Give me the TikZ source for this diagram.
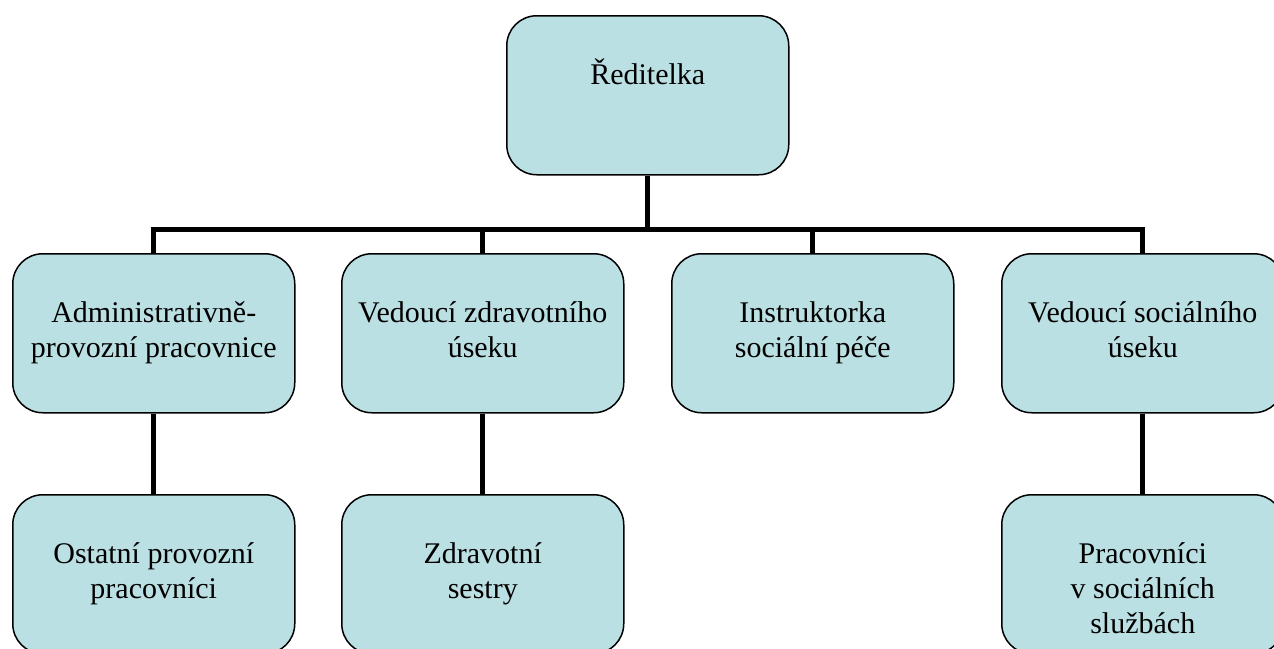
\documentclass[tikz,border=0pt]{standalone}
\usepackage{fontspec}
\setmainfont{Liberation Serif}
\definecolor{boxfill}{HTML}{BBE0E3}
\begin{document}
\begin{tikzpicture}[x=0.5pt,y=-0.5pt,
  orgbox/.style={draw=black, line width=0.75pt, fill=boxfill, rounded corners=15pt,
    minimum width=141pt, minimum height=79.5pt, inner sep=0pt, anchor=north west},
  orgtext/.style={anchor=base, align=center, font=\fontsize{15pt}{17.5pt}\selectfont, inner sep=0pt},
  conn/.style={line width=2.5pt, line join=miter}]
\useasboundingbox (0,0) rectangle (1274,648);
\clip (0,0) rectangle (1274,648);
\fill[white] (0,0) rectangle (1274,648);
% boxes
\node[orgbox] (dir) at (506,15) {};
\node[orgbox] (a1) at (12,253) {};
\node[orgbox] (a2) at (341,253) {};
\node[orgbox] (a3) at (671,253) {};
\node[orgbox] (a4) at (1001,253) {};
\node[orgbox] (b1) at (12,494) {};
\node[orgbox] (b2) at (341,494) {};
\node[orgbox] (b4) at (1001,494) {};
% connectors
\coordinate (bus) at (0,229);
\draw[conn] (dir.south) -- (dir.south |- bus);
\draw[conn] (a1.north) -- (a1.north |- bus) -- (a4.north |- bus) -- (a4.north);
\draw[conn] (a2.north) -- (a2.north |- bus);
\draw[conn] (a3.north) -- (a3.north |- bus);
\draw[conn] (a1.south) -- (b1.north);
\draw[conn] (a2.south) -- (b2.north);
\draw[conn] (a4.south) -- (b4.north);
% texts (base anchor = baseline of the last line)
\node[orgtext] (t0) at ([yshift=-34.5pt]dir.north) {Ředitelka};
\node[orgtext] (t1) at ([yshift=-52pt]a1.north) {Administrativně-\\provozní pracovnice};
\node[orgtext] (t2) at ([yshift=-52pt]a2.north) {Vedoucí zdravotního\\úseku};
\node[orgtext] (t3) at ([yshift=-52pt]a3.north) {Instruktorka\\sociální péče};
\node[orgtext] (t4) at ([yshift=-52pt]a4.north) {Vedoucí sociálního\\úseku};
\node[orgtext] (t5) at ([yshift=-52pt]b1.north) {Ostatní provozní\\pracovníci};
\node[orgtext] (t6) at ([yshift=-52pt]b2.north) {Zdravotní\\sestry};
\node[orgtext] (t7) at ([yshift=-69.5pt]b4.north) {Pracovníci\\v sociálních\\službách};
\end{tikzpicture}
\end{document}
